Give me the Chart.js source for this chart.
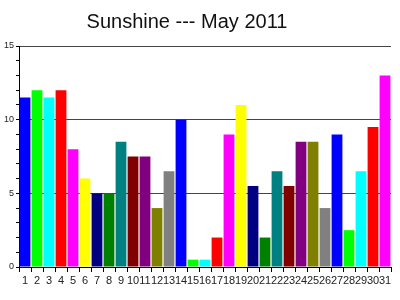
<!DOCTYPE html>
<html>
<head>
<meta charset="utf-8">
<script src="https://cdn.jsdelivr.net/npm/chart.js@4/dist/chart.umd.min.js"></script>
<style>
  html, body { margin: 0; padding: 0; background: #fff; }
  #wrap { position: relative; width: 400px; height: 300px; }
  #title {
    position: absolute; left: 0; top: 9px; width: 374px;
    text-align: center; font: 20px "Liberation Sans", Arial, sans-serif;
    color: #111; line-height: 24px;
  }
</style>
</head>
<body>
<div id="wrap">
  <div id="title">Sunshine --- May 2011</div>
  <canvas id="chart" width="400" height="300"></canvas>
</div>
<script>
const days = ['1','2','3','4','5','6','7','8','9','10','11','12','13','14','15','16',
  '17','18','19','20','21','22','23','24','25','26','27','28','29','30','31'];
const sunshineHours = [11.5, 12, 11.5, 12, 8, 6, 5, 5, 8.5, 7.5, 7.5, 4, 6.5, 10, 0.5, 0.5,
  2, 9, 11, 5.5, 2, 6.5, 5.5, 8.5, 8.5, 4, 9, 2.5, 6.5, 9.5, 13];
const palette = ['#0000ff', '#00ff00', '#00ffff', '#ff0000', '#ff00ff', '#ffff00', '#000080',
  '#008000', '#008080', '#800000', '#800080', '#808000', '#808080'];
const yTicks = [0, 5, 10, 15];

const barColors = days.map((d, i) => palette[i % palette.length]);

// bar chart, one colour per day cycling through the palette
new Chart(document.getElementById('chart'), {
  type: 'bar',
  data: {
    labels: days,
    datasets: [{
      label: 'Sunshine',
      data: sunshineHours,
      backgroundColor: barColors,
      borderWidth: 0,
      barPercentage: 0.9,
      categoryPercentage: 1.0,
    }],
  },
  options: {
    responsive: false,
    animation: false,
    layout: { padding: { top: 46, right: 9, bottom: 0, left: 0 } },
    plugins: {
      legend: { display: false },
      tooltip: { enabled: false },
    },
    scales: {
      x: {
        grid: { drawOnChartArea: false, tickLength: 5, tickColor: '#000', offset: true },
        border: { color: '#000' },
        ticks: {
          color: '#222', padding: 2, maxRotation: 0, autoSkip: false,
          font: { family: '"Liberation Sans", Arial, sans-serif', size: 11 },
        },
        afterFit: (s) => { s.height = 33; },
      },
      y: {
        min: 0,
        max: 15,
        grid: {
          color: (c) => (yTicks.includes(c.tick.value) ? '#444' : 'rgba(0,0,0,0)'),
          tickColor: '#000',
          tickLength: 3,
        },
        border: { color: '#000' },
        ticks: {
          stepSize: 1,
          color: '#222',
          padding: 2,
          font: { family: '"Liberation Sans", Arial, sans-serif', size: 9 },
          callback: (v) => (yTicks.includes(v) ? String(v) : ''),
        },
        afterFit: (s) => { s.width = 19; },
      },
    },
  },
});
</script>
</body>
</html>
